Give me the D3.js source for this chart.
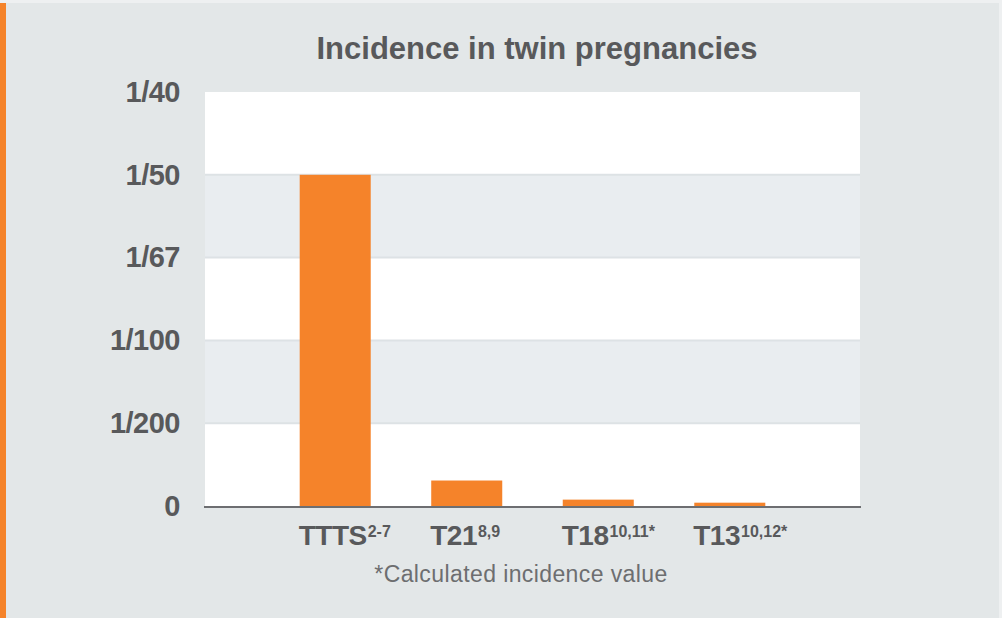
<!DOCTYPE html>
<html>
<head>
<meta charset="utf-8">
<script src="https://cdn.jsdelivr.net/npm/d3@7"></script>
<style>
  html, body { margin: 0; padding: 0; background: #eef0f1; }
  svg { display: block; font-family: "Liberation Sans", Arial, sans-serif; }
</style>
</head>
<body>
<div id="chart"></div>
<script>
// data
const categories = ['TTTS', 'T21', 'T18', 'T13']
const superscripts = ['2-7', '8,9', '10,11*', '10,12*']
const incidence = [1 / 50, 1 / 650, 1 / 2600, 1 / 5000]
const tickValues = [0, 0.005, 0.01, 0.015, 0.02, 0.025]
const tickLabels = ['0', '1/200', '1/100', '1/67', '1/50', '1/40']

const width = 1002
const height = 618
const margin = { top: 92, left: 205, right: 142, bottom: 112 }
const text = '#58595b'
const orange = '#f5832a'

const svg = d3.select('#chart').append('svg')
    .attr('width', width).attr('height', height)

// panel + orange edge
svg.append('rect').attr('x', 0).attr('y', 3).attr('width', 999).attr('height', height - 3).attr('fill', '#e3e7e8')
svg.append('rect').attr('x', 0).attr('y', 3).attr('width', 6).attr('height', height - 3).attr('fill', orange)

const x = d3.scaleBand()
    .domain(categories)
    .range([margin.left, width - margin.right])
    .paddingInner(0.46)
    .paddingOuter(0.72)

const y = d3.scaleLinear()
    .domain([0, 0.025])
    .range([height - margin.bottom, margin.top])

// alternating bands
const bands = svg.append('g')
bands.selectAll('rect')
    .data(d3.pairs(tickValues))
    .enter().append('rect')
    .attr('x', margin.left)
    .attr('width', width - margin.right - margin.left)
    .attr('y', d => y(d[1]))
    .attr('height', d => y(d[0]) - y(d[1]))
    .attr('fill', (d, i) => i % 2 === 0 ? '#ffffff' : '#e9edf0')

// grid lines
bands.selectAll('line')
    .data(tickValues.slice(1, -1))
    .enter().append('line')
    .attr('x1', margin.left).attr('x2', width - margin.right)
    .attr('y1', d => y(d)).attr('y2', d => y(d))
    .attr('stroke', '#dde2e5').attr('stroke-width', 2)

// y axis labels
const yAxis = svg.append('g')
    .attr('transform', `translate(${margin.left - 25},0)`)
    .call(d3.axisLeft(y).tickValues(tickValues).tickFormat((d, i) => tickLabels[i]).tickSize(0).tickPadding(0))
yAxis.select('.domain').remove()
yAxis.selectAll('text')
    .attr('fill', text)
    .style('font-size', '29px')
    .style('font-weight', 'bold')
    .style('letter-spacing', '-0.5px')

// bars
svg.append('g').selectAll('.bar')
    .data(categories)
    .enter().append('rect').attr('class', 'bar')
    .attr('x', d => x(d))
    .attr('width', x.bandwidth())
    .attr('y', (d, i) => y(incidence[i]))
    .attr('height', (d, i) => y(0) - y(incidence[i]))
    .style('fill', orange)

// baseline
svg.append('line')
    .attr('x1', margin.left - 1).attr('x2', width - margin.right + 1)
    .attr('y1', y(0) + 1).attr('y2', y(0) + 1)
    .attr('stroke', '#6d6e71').attr('stroke-width', 2)

// category labels with superscripts
const xLabels = svg.append('g').selectAll('text')
    .data(categories)
    .enter().append('text')
    .attr('x', d => x(d) - 1)
    .attr('y', 545)
    .attr('fill', text)
    .style('font-weight', 'bold')
xLabels.append('tspan').text(d => d).style('font-size', '28px').style('letter-spacing', '-0.5px')
xLabels.append('tspan').text((d, i) => superscripts[i])
    .attr('dx', 1).attr('dy', -8)
    .style('font-size', '16px')

// title
svg.append('text')
    .attr('x', 537).attr('y', 59)
    .attr('text-anchor', 'middle')
    .attr('fill', text)
    .style('font-size', '31px')
    .style('font-weight', 'bold')
    .text('Incidence in twin pregnancies')

// footnote
svg.append('text')
    .attr('x', 521).attr('y', 582)
    .attr('text-anchor', 'middle')
    .attr('fill', '#6d6e70')
    .style('font-size', '23px')
    .style('letter-spacing', '0.4px')
    .text('*Calculated incidence value')
</script>
</body>
</html>
